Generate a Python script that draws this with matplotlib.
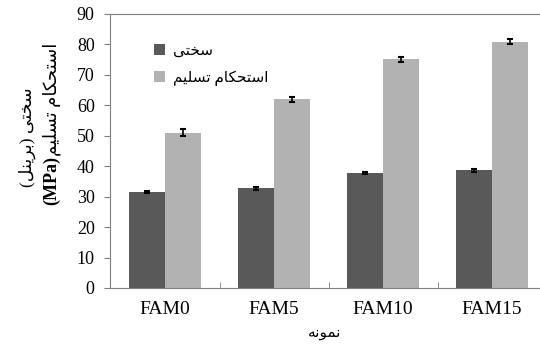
import numpy as np
import matplotlib
matplotlib.use("Agg")
import matplotlib.pyplot as plt

plt.rcParams['font.family'] = ['Liberation Serif', 'DejaVu Sans']

samples = ["FAM0", "FAM5", "FAM10", "FAM15"]
hardness = [31.6, 32.8, 37.9, 38.6]
hardness_err = [0.3, 0.5, 0.3, 0.4]
yield_strength = [51.0, 62.0, 75.1, 80.9]
yield_err = [1.1, 0.9, 0.9, 0.8]

# minimal persian shaping (matplotlib has no RTL / joining support)
FORMS = {
    'ا': (0xFE8D, 0xFE8E, None, None),
    'ب': (0xFE8F, 0xFE90, 0xFE91, 0xFE92),
    'ت': (0xFE95, 0xFE96, 0xFE97, 0xFE98),
    'ح': (0xFEA1, 0xFEA2, 0xFEA3, 0xFEA4),
    'خ': (0xFEA5, 0xFEA6, 0xFEA7, 0xFEA8),
    'ر': (0xFEAD, 0xFEAE, None, None),
    'س': (0xFEB1, 0xFEB2, 0xFEB3, 0xFEB4),
    'ل': (0xFEDD, 0xFEDE, 0xFEDF, 0xFEE0),
    'م': (0xFEE1, 0xFEE2, 0xFEE3, 0xFEE4),
    'ن': (0xFEE5, 0xFEE6, 0xFEE7, 0xFEE8),
    'ه': (0xFEE9, 0xFEEA, 0xFEEB, 0xFEEC),
    'و': (0xFEED, 0xFEEE, None, None),
    'ی': (0xFBFC, 0xFBFD, 0xFBFE, 0xFBFF),
    'ک': (0xFB8E, 0xFB8F, 0xFB90, 0xFB91),
}


def fa(text):
    out = []
    for i, ch in enumerate(text):
        if ch not in FORMS:
            out.append(ch)
            continue
        prev = text[i - 1] if i > 0 else ''
        nxt = text[i + 1] if i + 1 < len(text) else ''
        jp = prev in FORMS and FORMS[prev][2] is not None
        jn = FORMS[ch][2] is not None and nxt in FORMS
        f = FORMS[ch]
        if jp and jn:
            c = f[3]
        elif jp:
            c = f[1]
        elif jn:
            c = f[2]
        else:
            c = f[0]
        out.append(chr(c))
    return ''.join(reversed(out))


fig = plt.figure(figsize=(5.4, 3.45), dpi=100)
ax = fig.add_axes([110 / 540, 1 - 288 / 345, 1 - 110 / 540, (288 - 14) / 345])

x = np.arange(len(samples))
w = 0.33
ekw = dict(elinewidth=1.2, capthick=1.5, ecolor='black')
ax.bar(x - w / 2, hardness, w, color='#595959', yerr=hardness_err, capsize=2.5,
       error_kw=ekw, label=fa('سختی'))
ax.bar(x + w / 2, yield_strength, w, color='#b2b2b2', yerr=yield_err, capsize=2.5,
       error_kw=ekw, label=fa('استحکام تسلیم'))

ax.set_xlim(-0.505, 3.44)
ax.set_ylim(0, 90)
ax.set_yticks(range(0, 91, 10))
ax.set_xticks(x)
ax.set_xticklabels(samples, fontsize=14)
ax.set_xticks(x[:-1] + 0.5, minor=True)
ax.tick_params(axis='x', which='major', length=0, pad=9)
ax.tick_params(axis='x', which='minor', direction='in', length=4, color='#7f7f7f')
ax.tick_params(axis='y', labelsize=13, length=4, color='#7f7f7f', pad=7)

for s in ['top', 'left', 'bottom']:
    ax.spines[s].set_color('#7f7f7f')
ax.spines['right'].set_visible(False)

ax.set_xlabel(fa('نمونه'), fontsize=11, labelpad=7)
fig.text(27 / 540, 1 - 137 / 345, '(' + fa('برینل') + ') ' + fa('سختی'),
         rotation=90, ha='center', va='center', fontsize=12.5)
fig.text(52 / 540, 1 - 156 / 345, fa('استحکام تسلیم'),
         rotation=90, ha='center', va='bottom', fontsize=13)
fig.text(52 / 540, 1 - 156 / 345, '(MPa)',
         rotation=90, ha='center', va='top', fontsize=13, fontweight='bold')

ax.legend(loc='upper left', bbox_to_anchor=(0.07, 0.94), frameon=False,
          fontsize=11, handlelength=0.75, handleheight=0.75, handletextpad=0.5,
          labelspacing=0.8)

fig.savefig('out.png', dpi=100)
